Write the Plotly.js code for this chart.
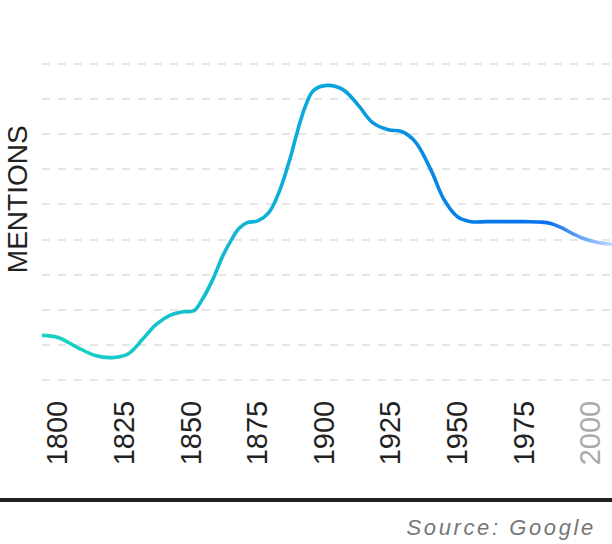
<!DOCTYPE html>
<html>
<head>
<meta charset="utf-8">
<script src="https://cdn.plot.ly/plotly-3.0.1.min.js"></script>
<style>
  html, body { margin: 0; padding: 0; background: #fff; }
</style>
</head>
<body>
<div id="chart" style="width:612px;height:544px;"></div>
<script>
// values (arbitrary "mentions" units, gridline = 1)
const years = [1794, 1800, 1807, 1814, 1820, 1826, 1832, 1837, 1842, 1847, 1851, 1854,
               1858, 1862, 1865, 1868, 1871, 1875, 1879, 1883, 1887, 1890, 1893, 1896,
               1901, 1907, 1913, 1918, 1924, 1929, 1934, 1940, 1945, 1950, 1955, 1961,
               1968, 1975, 1981, 1985, 1989, 1993, 1997, 2001, 2004, 2008];
const mentions = [1.28, 1.22, 0.95, 0.71, 0.65, 0.74, 1.19, 1.60, 1.85, 1.95, 1.98, 2.28,
                  2.85, 3.56, 3.98, 4.32, 4.48, 4.53, 4.75, 5.35, 6.27, 7.10, 7.81, 8.24,
                  8.38, 8.26, 7.79, 7.33, 7.12, 7.07, 6.79, 5.98, 5.13, 4.65, 4.51, 4.51,
                  4.51, 4.51, 4.50, 4.46, 4.34, 4.18, 4.04, 3.95, 3.90, 3.87];

const tickYears = [1800, 1825, 1850, 1875, 1900, 1925, 1950, 1975, 2000];
const tickLabels = ['1800', '1825', '1850', '1875', '1900', '1925', '1950', '1975',
                    '<span style="color:#aaaaaa">2000</span>'];

const FONT = '"Liberation Sans", Arial, Helvetica, sans-serif';
const INK = '#222222';

// teal -> blue -> faded blue along the line
const GRADIENT = [
    [0.00, '#1ad3c1'],
    [0.25, '#14bfcc'],
    [0.50, '#0aa6dc'],
    [0.70, '#0785e6'],
    [0.80, '#0677ec'],
    [0.89, '#0a70f0'],
    [1.00, '#c2d8fd']
];

const traces = [{
    x: years, y: mentions, type: 'scatter', mode: 'lines',
    line: { color: '#0aa6dc', width: 3.6, shape: 'spline', smoothing: 1.1 },
    hoverinfo: 'none'
}];

const layout = {
    width: 612, height: 544,
    margin: { l: 42, r: 0, t: 60, b: 160 },
    paper_bgcolor: '#ffffff', plot_bgcolor: '#ffffff',
    showlegend: false,
    font: { family: FONT, color: INK },
    xaxis: {
        range: [1794, 2008],
        tickmode: 'array', tickvals: tickYears, ticktext: tickLabels,
        tickangle: -90, ticks: '', ticklabelstandoff: 10,
        tickfont: { family: FONT, size: 29, color: INK },
        showgrid: false, zeroline: false, showline: false, fixedrange: true
    },
    yaxis: {
        range: [-0.1, 9.1], dtick: 1, tick0: 0,
        showticklabels: false, ticks: '',
        showgrid: true, gridcolor: '#e4e6ea', gridwidth: 2, griddash: '8px,8px',
        zeroline: false, showline: false, fixedrange: true
    },
    shapes: [{
        type: 'line', xref: 'paper', yref: 'paper',
        x0: -0.08, x1: 1.01, y0: -0.358, y1: -0.358,
        line: { color: INK, width: 4 }
    }],
    annotations: [
        {
            text: 'MENTIONS', xref: 'paper', yref: 'paper',
            x: -0.043, y: 0.572, xanchor: 'center', yanchor: 'middle',
            textangle: -90, showarrow: false,
            font: { family: FONT, size: 28, color: INK }
        },
        {
            text: 'Source: Google', xref: 'paper', yref: 'paper',
            x: 0.975, y: -0.444, xanchor: 'right', yanchor: 'middle',
            showarrow: false,
            font: { family: FONT, size: 22, color: '#777777', style: 'italic' }
        }
    ]
};

Plotly.newPlot('chart', traces, layout, { displayModeBar: false, staticPlot: true }).then(gd => {
    const ns = 'http://www.w3.org/2000/svg';
    const defs = gd.querySelector('svg.main-svg defs');
    const grad = document.createElementNS(ns, 'linearGradient');
    grad.setAttribute('id', 'mentionsGrad');
    grad.setAttribute('x1', '0'); grad.setAttribute('x2', '1');
    grad.setAttribute('y1', '0'); grad.setAttribute('y2', '0');
    GRADIENT.forEach(([off, col]) => {
        const s = document.createElementNS(ns, 'stop');
        s.setAttribute('offset', off);
        s.setAttribute('stop-color', col);
        grad.appendChild(s);
    });
    defs.appendChild(grad);
    gd.querySelectorAll('.scatterlayer .js-line').forEach(p => {
        p.style.stroke = 'url(#mentionsGrad)';
    });

    // the source line is letter-spaced in the reference
    gd.querySelectorAll('.annotation-text').forEach(t => {
        if (t.textContent !== 'Source: Google') return;
        const before = t.getBoundingClientRect().right;
        t.style.letterSpacing = '2.6px';
        const after = t.getBoundingClientRect().right;
        t.setAttribute('x', parseFloat(t.getAttribute('x') || 0) - (after - before));
    });
});
</script>
</body>
</html>
